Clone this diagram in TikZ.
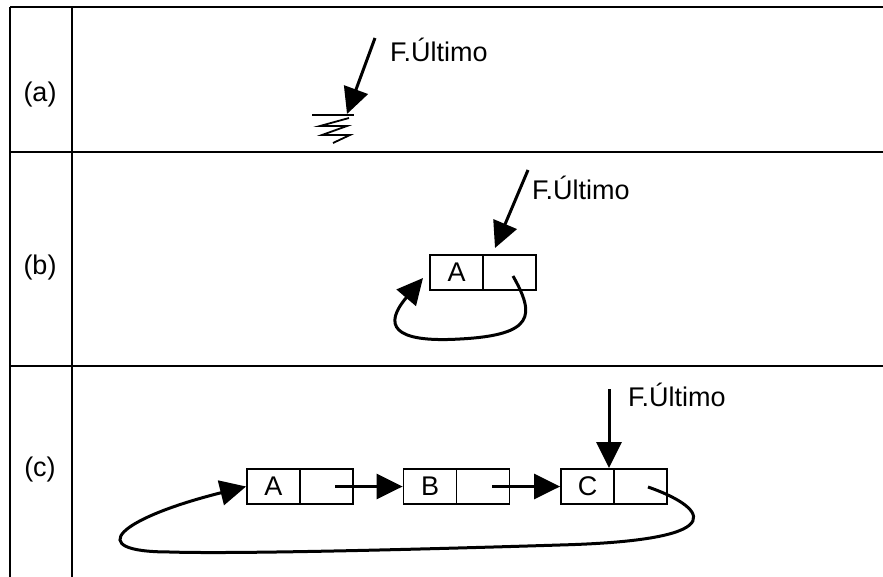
\documentclass[tikz,border=0pt]{standalone}
\usepackage{fontspec}
\setmainfont{Liberation Sans}
\usetikzlibrary{arrows.meta}
\begin{document}
\begin{tikzpicture}[x=1pt,y=-1pt,
  rule/.style={line width=2pt},
  cell/.style={draw,line width=1.8pt,minimum width=53pt,minimum height=35pt,inner sep=0pt,font=\fontsize{27}{32}\selectfont},
  lbl/.style={inner sep=0pt,font=\fontsize{27}{32}\selectfont},
  ptr/.style={line width=3pt,-{Triangle[length=26pt,width=25pt]}},
  loop/.style={line width=3pt,-{Triangle[length=26pt,width=25pt]}}]
\useasboundingbox (0,0) rectangle (883,577);
% table
\draw[rule] (10,7) -- (883,7);
\draw[rule] (10,152) -- (883,152);
\draw[rule] (10,366) -- (883,366);
\draw[rule] (10,7) -- (10,577);
\draw[rule] (72,7) -- (72,577);
\node[lbl] (la) at (40,95) {(a)};
\node[lbl] (lb) at (40,268) {(b)};
\node[lbl] (lc) at (40,470) {(c)};
% (a)
\node[lbl,anchor=west] (ta) at (390,50) {F.Último};
\coordinate (fa) at (375,38);
\coordinate (ga) at (347,114);
\draw[ptr] (fa) -- (ga);
\draw[line width=2pt] (312,115) -- (354,115);
\draw[line width=1.8pt,line join=miter] (349,118) -- (320,126) -- (347,126) -- (322,135) -- (350,135) -- (333,143);
% (b)
\node[cell] (bA) at (456.5,272.5) {A};
\node[cell] (bN) at (509.5,272.5) {};
\node[lbl,anchor=west] (tb) at (532,188) {F.Último};
\coordinate (fb) at (528,170);
\coordinate (gb) at (495,248);
\draw[ptr] (fb) -- (gb);
\coordinate (sb) at (513,276);
\coordinate (eb) at (423,278);
\draw[loop] (sb) .. controls (535,315) and (535,335) .. (460,339)
  .. controls (392,343) and (383,325) .. (eb);
% (c)
\node[cell] (cA) at (273.5,486.5) {A};
\node[cell] (cAn) at (326.5,486.5) {};
\node[cell] (cB) at (430,486.5) {B};
\node[cell] (cBn) at (483,486.5) {};
\node[cell] (cC) at (587.5,486.5) {C};
\node[cell] (cCn) at (640.5,486.5) {};
\coordinate (sA) at (335,486.5);
\coordinate (sB) at (492,486.5);
\draw[ptr] (sA) -- (cB.west);
\draw[ptr] (sB) -- (cC.west);
\node[lbl,anchor=west] (tc) at (628,395) {F.Último};
\coordinate (fc) at (609,389);
\coordinate (gc) at (609,468);
\draw[ptr] (fc) -- (gc);
\coordinate (sc) at (648,487);
\draw[loop] (sc) .. controls (700,505) and (745,540) .. (560,545)
  .. controls (400,550) and (230,554) .. (170,552)
  .. controls (80,552) and (120,518) .. (cA.west);
\end{tikzpicture}
\end{document}
